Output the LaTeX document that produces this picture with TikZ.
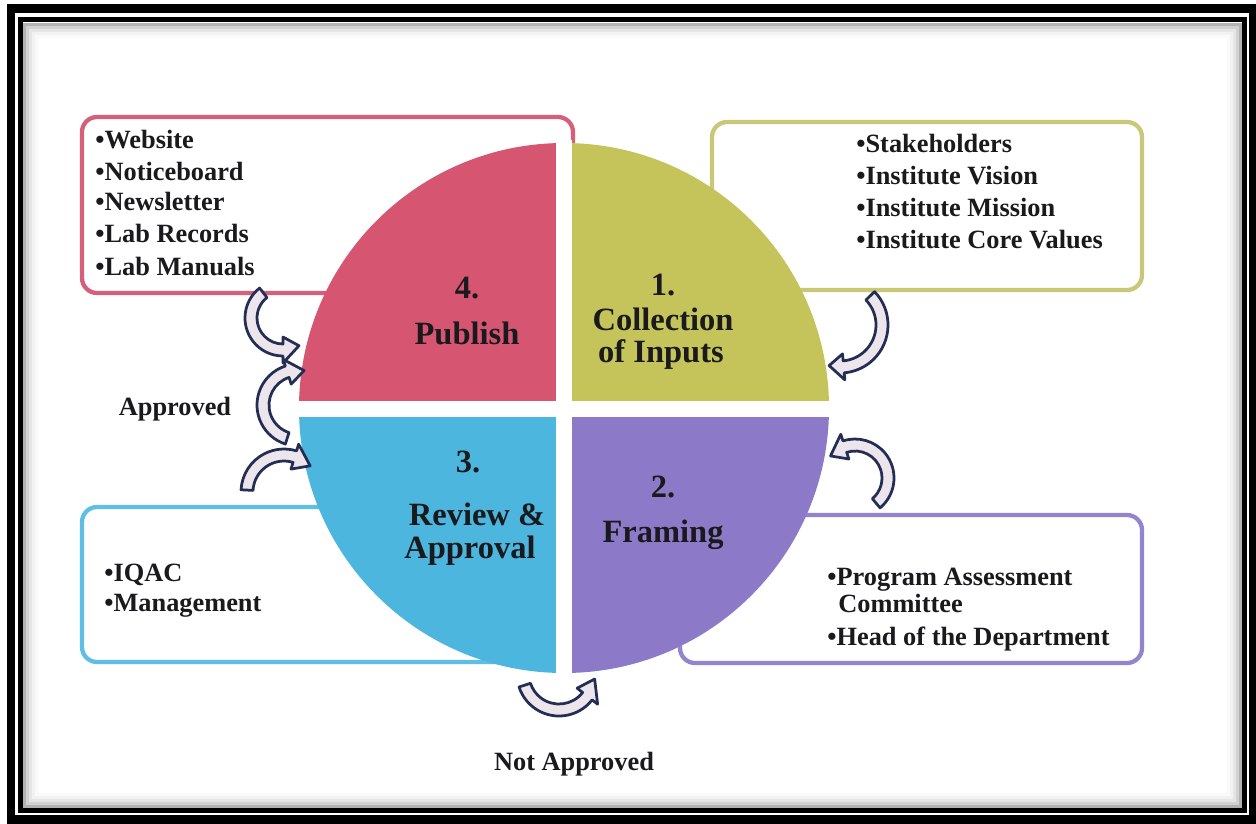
\documentclass[tikz,border=0pt]{standalone}
\usepackage{fontspec}
\setmainfont{Liberation Serif}
\definecolor{pinkq}{RGB}{214,86,114}
\definecolor{greenq}{RGB}{196,196,90}
\definecolor{purpleq}{RGB}{140,122,200}
\definecolor{blueq}{RGB}{76,182,222}
\definecolor{pinkb}{RGB}{214,96,122}
\definecolor{greenb}{RGB}{200,200,120}
\definecolor{blueb}{RGB}{94,190,228}
\definecolor{purpleb}{RGB}{148,132,206}
\definecolor{navyline}{RGB}{36,46,84}
\definecolor{arrowfill}{RGB}{236,230,236}
\definecolor{txt}{RGB}{26,26,30}
\newcommand{\cyclarrow}[5]{%
  \begin{scope}[shift={(#1)}]
  \filldraw[blockarrow] ({#3}:{#2+6}) arc[start angle={#3}, end angle={#4}, radius={#2+6}]
     -- ({#4}:{#2+13}) -- ({#5}:{#2}) -- ({#4}:{#2-13}) -- ({#4}:{#2-6})
     arc[start angle={#4}, end angle={#3}, radius={#2-6}] -- cycle;
  \end{scope}}
\begin{document}
\begin{tikzpicture}[x=0.02cm,y=0.02cm,
  infobox/.style={line width=0.085cm, rounded corners=0.3cm},
  boxtxt/.style={anchor=base west, inner sep=0pt, text=txt, font=\fontsize{15}{18}\selectfont\bfseries},
  qlab/.style={anchor=base, inner sep=0pt, text=txt, font=\fontsize{18.5}{20}\selectfont\bfseries},
  blockarrow/.style={fill=arrowfill, draw=navyline, line width=0.055cm, line join=round}]
\useasboundingbox (0,0) rectangle (1256,-823);
\fill[white] (0,0) rectangle (1256,-823);
% inner shadow
\foreach \i/\c in {0/30,1/18,2/10,3/5,4/2} {
  \draw[black!\c, line width=0.06cm] ({24+3*\i},{-24-3*\i}) rectangle ({1240-3*\i},{-806+3*\i});
}
% frame
\draw[black, line width=0.18cm] (11,-8) rectangle (1253,-819);
\draw[black, line width=0.1cm] (20,-19.5) rectangle (1244.5,-810.5);

% boxes (behind the circle)
\draw[infobox, pinkb] (82,-117) rectangle (573,-293);
\draw[infobox, greenb] (712,-122) rectangle (1142,-290);
\draw[infobox, blueb] (82,-507) rectangle (540,-662);
\draw[infobox, purpleb] (680,-515) rectangle (1142,-663);

% circle quadrants
\coordinate (C) at (564,-408);
\fill[pinkq] (C) -- ++(180:265) arc[start angle=180,end angle=90,radius=265] -- cycle;
\fill[greenq] (C) -- ++(90:265) arc[start angle=90,end angle=0,radius=265] -- cycle;
\fill[purpleq] (C) -- ++(0:265) arc[start angle=0,end angle=-90,radius=265] -- cycle;
\fill[blueq] (C) -- ++(-90:265) arc[start angle=-90,end angle=-180,radius=265] -- cycle;
\fill[white] (556,-140) rectangle (572,-676);
\fill[white] (296,-401) rectangle (832,-417);

% quadrant labels
\node[qlab] (n4) at (467,-298) {4.};
\node[qlab] (pub) at (467,-344) {Publish};
\node[qlab] (n1) at (663,-295) {1.};
\node[qlab] (col1) at (663,-330) {Collection};
\node[qlab] (col2) at (661,-362) {of Inputs};
\node[qlab] (n2) at (663,-497) {2.};
\node[qlab] (fr) at (663,-542) {Framing};
\node[qlab] (n3) at (468,-472) {3.};
\node[qlab] (rev1) at (477,-525) {Review \&};
\node[qlab] (rev2) at (470,-558) {Approval};

% box texts
\node[boxtxt] (p1) at (95,-148) {\textbullet Website};
\node[boxtxt] (p2) at (95,-180) {\textbullet Noticeboard};
\node[boxtxt] (p3) at (95,-210) {\textbullet Newsletter};
\node[boxtxt] (p4) at (95,-242) {\textbullet Lab Records};
\node[boxtxt] (p5) at (95,-275) {\textbullet Lab Manuals};

\node[boxtxt] (g1) at (856,-152) {\textbullet Stakeholders};
\node[boxtxt] (g2) at (856,-184) {\textbullet Institute Vision};
\node[boxtxt] (g3) at (856,-216) {\textbullet Institute Mission};
\node[boxtxt] (g4) at (856,-248) {\textbullet Institute Core Values};

\node[boxtxt] (b1) at (104,-581) {\textbullet IQAC};
\node[boxtxt] (b2) at (104,-611) {\textbullet Management};

\node[boxtxt] (u1) at (827,-585) {\textbullet Program Assessment};
\node[boxtxt] (u2) at (838,-612) {Committee};
\node[boxtxt] (u3) at (827,-645) {\textbullet Head of the Department};

\node[boxtxt, anchor=base] (appr) at (175,-415) {Approved};
\node[boxtxt, anchor=base] (nappr) at (574,-770) {Not Approved};

% curved block arrows
\coordinate (aA) at (840,-325);
\coordinate (aB) at (855,-478);
\coordinate (aC) at (559,-674);
\coordinate (aD1) at (283,-318);
\coordinate (aD2) at (298,-405);
\coordinate (aD3) at (284,-492);
\cyclarrow{aA}{42}{44}{-85}{-105}
\cyclarrow{aB}{33}{-50}{108}{138}
\cyclarrow{aC}{36}{-162}{-38}{-8}
\cyclarrow{aD1}{32}{128}{270}{300}
\cyclarrow{aD2}{35}{252}{108}{80}
\cyclarrow{aD3}{37}{177}{73}{45}
\end{tikzpicture}
\end{document}
